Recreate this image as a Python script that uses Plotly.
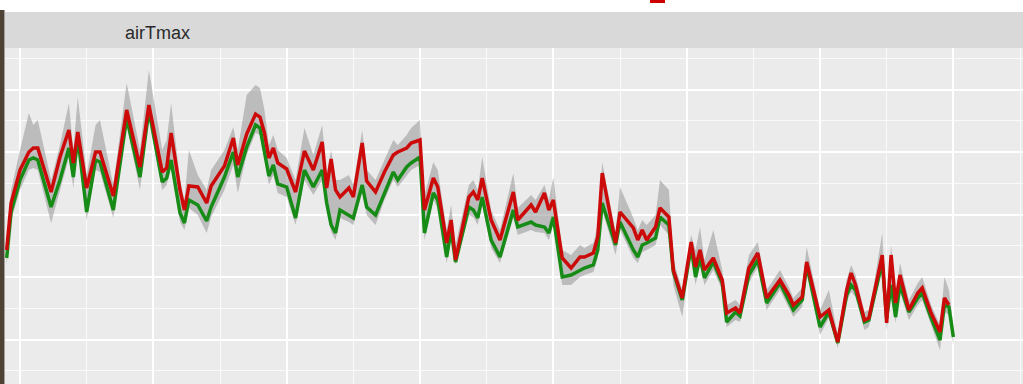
import plotly.graph_objects as go

# Day of the season for each observation
day = [-3, -2, 0, 2, 3, 4, 7, 9, 11, 12, 13, 15, 17, 18, 21, 24, 27, 29, 32, 33,
       34, 36, 37, 38, 40, 42, 43, 46, 48, 49, 51, 53, 54, 55, 56, 57, 58, 60, 62, 64,
       66, 68, 69, 70, 71, 72, 74, 75, 77, 78, 80, 82, 84, 85, 87, 88, 90, 91, 93, 94,
       96, 97, 98, 101, 102, 103, 104, 106, 108, 111, 112, 115, 116, 118, 119, 120, 122, 124, 126, 127,
       129, 130, 131, 134, 135, 138, 139, 140, 141, 143, 144, 146, 147, 148, 149, 151, 152, 153, 154, 156,
       158, 159, 161, 162, 164, 166, 168, 171, 173, 174, 176, 177, 180, 182, 184, 186, 187, 188, 190, 191,
       192, 194, 195, 196, 197, 198, 200, 202, 203, 205, 207, 208, 209, 210]

# Modelled airTmax (red)
pred = [12.16, 15.92, 18.56, 20.0, 20.32, 20.32, 16.8, 19.6, 21.76, 19.12, 21.6, 17.12, 20.0, 20.0, 16.48, 23.36, 18.8, 23.76, 18.4, 18.72,
        21.52, 16.96, 15.36, 17.28, 17.2, 15.92, 17.28, 18.88, 21.12, 18.96, 21.44, 23.04, 22.8, 21.52, 19.52, 20.32, 19.12, 18.64, 16.8, 20.08,
        18.56, 20.8, 17.12, 19.44, 16.96, 16.4, 17.12, 16.4, 20.72, 17.68, 16.8, 18.4, 19.76, 20.0, 20.32, 20.72, 20.96, 15.36, 17.92, 17.2,
        12.72, 14.56, 11.36, 16.4, 16.8, 16.16, 17.92, 14.56, 12.96, 16.8, 14.56, 15.76, 15.2, 16.72, 15.36, 16.16, 11.52, 10.72, 11.6, 11.6,
        11.92, 13.2, 18.32, 12.72, 15.2, 13.92, 12.96, 13.76, 12.96, 14.0, 15.52, 14.8, 10.56, 9.52, 8.32, 12.8, 10.8, 12.16, 10.56, 11.52,
        9.76, 7.12, 7.52, 7.12, 10.72, 11.92, 8.32, 9.76, 8.56, 7.76, 8.4, 11.2, 6.8, 7.36, 4.8, 8.96, 10.32, 9.36, 6.56, 6.72,
        8.4, 11.76, 6.32, 11.76, 7.92, 10.16, 7.36, 8.72, 9.12, 7.12, 5.6, 8.32, 7.76, None]

# Observed airTmax (green)
obs = [11.52, 15.2, 17.76, 19.36, 19.52, 19.36, 15.6, 17.76, 20.32, 18.0, 21.2, 15.2, 19.36, 19.2, 15.36, 22.72, 18.0, 23.36, 17.6, 17.92,
       19.36, 15.12, 14.32, 16.16, 15.76, 14.48, 15.6, 18.0, 20.0, 18.0, 20.4, 22.16, 21.92, 20.16, 18.08, 18.96, 17.44, 17.2, 14.72, 18.56,
       17.2, 18.56, 15.92, 14.16, 13.52, 15.36, 14.96, 14.72, 17.36, 15.6, 14.96, 16.72, 18.4, 17.76, 18.8, 19.12, 19.6, 13.52, 16.72, 16.16,
       11.6, 13.76, 11.2, 15.6, 15.36, 14.72, 16.4, 12.96, 11.6, 15.36, 14.0, 14.4, 14.16, 14.0, 13.52, 14.8, 10.0, 10.16, 10.56, 10.72,
       10.96, 12.16, 15.92, 12.56, 14.4, 12.16, 11.6, 12.56, 12.72, 13.12, 14.8, 14.16, 10.4, 9.2, 8.16, 12.4, 10.0, 11.6, 9.92, 11.2,
       9.52, 6.4, 7.2, 6.88, 10.16, 11.36, 7.92, 9.52, 8.16, 7.36, 8.16, 10.96, 6.0, 7.2, 4.72, 8.56, 9.36, 8.96, 6.4, 6.56,
       8.16, 11.2, 6.72, 9.36, 6.8, 9.36, 7.2, 8.32, 8.72, 6.72, 4.96, 7.76, 7.6, 5.2]

# Uncertainty band (grey)
upper = [12.96, 16.96, 20.16, 23.12, 22.16, 22.56, 17.76, 20.56, 23.92, 20.16, 24.4, 18.16, 22.16, 22.56, 17.36, 25.52, 20.16, 26.56, 20.16, 20.96,
         23.92, 17.76, 16.16, 20.16, 18.16, 16.96, 18.56, 20.16, 22.0, 20.16, 24.56, 25.36, 25.12, 23.36, 20.56, 21.36, 20.16, 19.52, 17.76, 21.92,
         19.76, 22.16, 18.16, 20.16, 17.76, 17.76, 18.16, 17.36, 21.76, 18.56, 17.76, 19.36, 20.96, 20.56, 21.36, 21.92, 22.56, 16.56, 19.2, 18.56,
         13.76, 15.76, 12.56, 17.36, 17.76, 16.96, 19.6, 15.36, 13.76, 18.32, 15.52, 16.56, 16.16, 17.36, 16.16, 18.0, 12.16, 11.76, 12.56, 12.32,
         12.72, 14.16, 19.2, 13.6, 17.2, 14.72, 13.76, 14.56, 14.16, 14.96, 17.76, 16.96, 11.36, 10.16, 8.96, 13.36, 12.16, 14.0, 11.36, 13.76,
         10.56, 7.76, 8.16, 7.76, 11.76, 12.8, 8.96, 10.56, 9.2, 8.32, 9.12, 12.4, 7.36, 8.96, 5.36, 9.76, 10.96, 10.16, 7.2, 7.36,
         9.12, 13.52, 7.2, 12.56, 8.56, 11.12, 8.16, 9.52, 10.0, 7.76, 6.16, 10.0, 8.96, 6.16]

lower = [10.96, 14.56, 16.96, 18.56, 18.72, 18.56, 14.32, 16.96, 19.52, 17.12, 20.56, 14.56, 18.56, 18.4, 14.72, 22.16, 16.96, 22.72, 16.96, 17.36,
         18.72, 14.4, 13.76, 15.52, 14.96, 13.52, 14.8, 16.96, 18.96, 16.72, 19.76, 21.52, 21.36, 19.52, 17.36, 18.16, 16.72, 16.4, 14.16, 17.76,
         16.56, 17.76, 15.36, 13.6, 12.96, 14.72, 14.4, 14.16, 16.8, 14.96, 14.16, 16.16, 17.76, 17.2, 18.16, 18.56, 18.96, 12.96, 16.16, 15.52,
         11.12, 13.12, 10.96, 14.96, 14.8, 14.16, 15.76, 12.32, 11.12, 14.72, 13.36, 13.76, 13.6, 13.52, 12.96, 14.16, 9.36, 9.36, 10.0, 10.16,
         10.4, 11.52, 15.36, 11.76, 13.76, 11.52, 11.12, 12.0, 12.16, 12.56, 14.16, 13.36, 9.36, 8.16, 6.8, 11.76, 9.36, 10.96, 9.36, 10.56,
         8.96, 6.0, 6.56, 6.4, 9.52, 10.8, 7.36, 8.96, 7.6, 6.8, 7.6, 10.4, 5.36, 6.72, 4.32, 8.0, 8.8, 8.4, 5.76, 6.0,
         7.6, 10.56, 5.76, 8.8, 6.32, 8.8, 6.56, 7.76, 8.16, 6.16, 4.16, 7.2, 6.96, 4.56]

panel_title = "airTmax"

W, H = 1023, 384
L, T = 5, 48  # plot area offset in pixels


def px_x(p):
    return (p - L) / (W - L)


def px_y(p):
    return (H - p) / (H - T)


fig = go.Figure()

fig.add_trace(go.Scatter(x=day, y=upper, mode="lines", line=dict(width=0),
                         hoverinfo="skip", showlegend=False))
fig.add_trace(go.Scatter(x=day, y=lower, mode="lines", line=dict(width=0),
                         fill="tonexty", fillcolor="rgba(150,150,150,0.55)",
                         hoverinfo="skip", showlegend=False))
fig.add_trace(go.Scatter(x=day, y=obs, mode="lines",
                         line=dict(color="#168c16", width=3.5), showlegend=False))
fig.add_trace(go.Scatter(x=day, y=pred, mode="lines",
                         line=dict(color="#cc0a0a", width=3.5), showlegend=False))

shapes = [
    # facet strip
    dict(type="rect", xref="paper", yref="paper", x0=0, x1=1,
         y0=1, y1=px_y(12), fillcolor="#d9d9d9", line=dict(width=0), layer="below"),
    # dark border at the left edge
    dict(type="rect", xref="paper", yref="paper", x0=px_x(0), x1=px_x(4.5),
         y0=px_y(384), y1=px_y(10), fillcolor="#4e4236", line=dict(width=0)),
    # small red tab above the strip
    dict(type="rect", xref="paper", yref="paper", x0=px_x(650), x1=px_x(665),
         y0=px_y(3), y1=px_y(0), fillcolor="#cc0000", line=dict(width=0)),
]

fig.update_layout(
    width=W, height=H,
    margin=dict(l=L, r=0, t=T, b=0),
    paper_bgcolor="white",
    plot_bgcolor="#ebebeb",
    shapes=shapes,
    annotations=[dict(text=panel_title, xref="paper", yref="paper",
                      x=px_x(157), y=px_y(33), showarrow=False,
                      font=dict(family="Liberation Sans, Arial", size=18, color="#2a2a2a"),
                      xanchor="center", yanchor="middle")],
    xaxis=dict(range=[-3.375, 225.675], tick0=0, dtick=30, showgrid=True,
               gridcolor="white", gridwidth=1.6, zeroline=False,
               showticklabels=False, ticks="", showline=False,
               minor=dict(tick0=15, dtick=30, showgrid=True,
                          gridcolor="rgba(255,255,255,0.75)", gridwidth=0.8)),
    yaxis=dict(range=[1.44, 28.32], tick0=0, dtick=5, showgrid=True,
               gridcolor="white", gridwidth=1.6, zeroline=False,
               showticklabels=False, ticks="", showline=False,
               minor=dict(tick0=2.5, dtick=5, showgrid=True,
                          gridcolor="rgba(255,255,255,0.75)", gridwidth=0.8)),
)

fig.write_html("out.html")
